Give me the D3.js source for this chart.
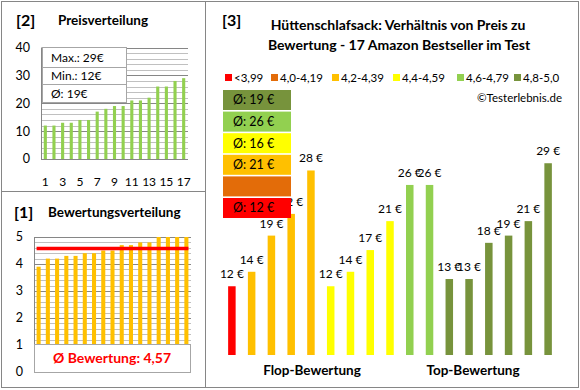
<!DOCTYPE html>
<html>
<meta charset="utf-8">
<head>
<style>
  body { margin: 0; background: #fff; }
  text { font-family: Lato, "Open Sans", sans-serif; }
</style>
</head>
<body>
<script src="https://d3js.org/d3.v7.min.js"></script>
<script>

// data: 17 products, ordered by rating group (flop -> top)
var prices  = [12, 14, 19, 22, 28, 12, 14, 17, 21, 26, 26, 13, 13, 18, 19, 21, 29];
var groups  = [0, 2, 2, 2, 2, 3, 3, 3, 3, 4, 4, 5, 5, 5, 5, 5, 5];
var groupLabels = ["<3,99", "4,0-4,19", "4,2-4,39", "4,4-4,59", "4,6-4,79", "4,8-5,0"];
var groupColors = ["#ff0000", "#e36c09", "#ffc000", "#ffff00", "#92d050", "#77933c"];
var groupAvg    = ["12", null, "21", "16", "26", "19"];

// sorted distributions
var priceSorted  = [12, 12, 13, 13, 14, 14, 17, 18, 19, 19, 21, 21, 22, 26, 26, 28, 29];
var ratingSorted = [3.9, 4.2, 4.2, 4.3, 4.3, 4.4, 4.4, 4.5, 4.5, 4.7, 4.7, 4.8, 4.8, 5.0, 5.0, 5.0, 5.0];
var priceInfo = ["Max.: 29€", "Min.: 12€", "Ø: 19€"];
var ratingAvg = 4.57;

var W = 580, H = 390;
var svg = d3.select("body").append("svg")
  .attr("width", W)
  .attr("height", H);

// frames
svg.append("rect").attr("x", 1.5).attr("y", 1.5).attr("width", 577).attr("height", 386)
  .attr("fill", "none").attr("stroke", "#868686");
svg.append("line").attr("x1", 205.5).attr("x2", 205.5).attr("y1", 1).attr("y2", 388).attr("stroke", "#868686");
svg.append("line").attr("x1", 1).attr("x2", 205).attr("y1", 191.5).attr("y2", 191.5).attr("stroke", "#868686");

function panelTitle(num, title, x, y, tx) {
  svg.append("text").attr("x", x).attr("y", y).attr("font-size", 16).attr("font-weight", "bold").text(num);
  svg.append("text").attr("x", tx).attr("y", y - 1).attr("font-size", 13.5).attr("font-weight", "bold").text(title);
}

// ---------- [2] Preisverteilung ----------
panelTitle("[2]", "Preisverteilung", 16, 26, 58);

var x2 = d3.scaleBand().domain(d3.range(17)).range([41, 188]).paddingInner(0.64).paddingOuter(0.32);
var y2 = d3.scaleLinear().domain([0, 40]).range([159, 47.5]);

var g2 = svg.append("g");
g2.selectAll(".grid").data(d3.range(2, 41, 2)).enter().append("line")
  .attr("x1", 41).attr("x2", 188)
  .attr("y1", function(d) { return Math.round(y2(d)) + 0.5; })
  .attr("y2", function(d) { return Math.round(y2(d)) + 0.5; })
  .attr("stroke", function(d) { return d % 10 === 0 ? "#868686" : "#c0c0c0"; });

g2.selectAll("rect.bar").data(priceSorted).enter().append("rect")
  .attr("x", function(d, i) { return x2(i); })
  .attr("width", x2.bandwidth())
  .attr("y", function(d) { return y2(d); })
  .attr("height", function(d) { return y2(0) - y2(d); })
  .attr("fill", "#92d050");

g2.append("line").attr("x1", 41.5).attr("x2", 41.5).attr("y1", y2(40)).attr("y2", y2(0)).attr("stroke", "#868686");
g2.append("line").attr("x1", 41).attr("x2", 188).attr("y1", Math.round(y2(0)) + 0.5).attr("y2", Math.round(y2(0)) + 0.5).attr("stroke", "#868686");

g2.selectAll(".ytick").data(d3.range(0, 41, 10)).enter().append("text")
  .attr("x", 30).attr("y", function(d) { return y2(d); }).attr("dy", "0.35em")
  .attr("text-anchor", "end").attr("font-size", 12.5).text(function(d) { return d; });

g2.selectAll(".xtick").data(d3.range(0, 17, 2)).enter().append("text")
  .attr("x", function(d) { return x2(d) + x2.bandwidth() / 2; }).attr("y", 186)
  .attr("text-anchor", "middle").attr("font-size", 12).text(function(d) { return d + 1; });

// info box
var boxRows = [48, 67, 84, 103];
g2.append("rect").attr("x", 42.5).attr("y", 47.5).attr("width", 84).attr("height", 55)
  .attr("fill", "#fff").attr("stroke", "#a6a6a6");
g2.selectAll(".sep").data(boxRows.slice(1, 3)).enter().append("line")
  .attr("x1", 42.5).attr("x2", 126.5)
  .attr("y1", function(d) { return d + 0.5; }).attr("y2", function(d) { return d + 0.5; })
  .attr("stroke", "#a6a6a6");
g2.selectAll(".info").data(priceInfo).enter().append("text")
  .attr("x", 51).attr("y", function(d, i) { return (boxRows[i] + boxRows[i + 1]) / 2; }).attr("dy", "0.35em")
  .attr("font-size", 12).text(function(d) { return d; });

// ---------- [1] Bewertungsverteilung ----------
panelTitle("[1]", "Bewertungsverteilung", 14, 218, 48);

var x1 = d3.scaleBand().domain(d3.range(17)).range([34, 191]).paddingInner(0.56).paddingOuter(0.28);
var y1 = d3.scaleLinear().domain([0, 5]).range([372, 237]);

var g1 = svg.append("g");
g1.selectAll(".grid").data(d3.range(1, 26).map(function(d) { return d / 5; })).enter().append("line")
  .attr("x1", 34).attr("x2", 191)
  .attr("y1", function(d) { return Math.round(y1(d)) + 0.5; })
  .attr("y2", function(d) { return Math.round(y1(d)) + 0.5; })
  .attr("stroke", function(d) { return Math.abs(d - Math.round(d)) < 1e-6 ? "#868686" : "#c0c0c0"; });

g1.selectAll("rect.bar").data(ratingSorted).enter().append("rect")
  .attr("x", function(d, i) { return x1(i); })
  .attr("width", x1.bandwidth())
  .attr("y", function(d) { return y1(d); })
  .attr("height", function(d) { return y1(0) - y1(d); })
  .attr("fill", "#ffc000");

g1.append("line").attr("x1", 34.5).attr("x2", 34.5).attr("y1", y1(5)).attr("y2", y1(0)).attr("stroke", "#868686");

g1.append("line").attr("x1", x1(0)).attr("x2", x1(16) + x1.bandwidth())
  .attr("y1", y1(ratingAvg)).attr("y2", y1(ratingAvg))
  .attr("stroke", "#ff0000").attr("stroke-width", 3.5);

g1.selectAll(".ytick").data(d3.range(0, 6)).enter().append("text")
  .attr("x", 23).attr("y", function(d) { return y1(d); }).attr("dy", "0.35em")
  .attr("text-anchor", "end").attr("font-size", 12.5).text(function(d) { return d; });

g1.append("rect").attr("x", 34.5).attr("y", y1(1) - 0.5).attr("width", 156).attr("height", y1(0) - y1(1) + 1)
  .attr("fill", "#fff").attr("stroke", "#a6a6a6");
g1.append("text").attr("x", 112).attr("y", (y1(0) + y1(1)) / 2).attr("dy", "0.35em")
  .attr("text-anchor", "middle").attr("font-size", 14).attr("font-weight", "bold").attr("fill", "#ff0000")
  .text("Ø Bewertung: " + String(ratingAvg).replace(".", ","));

// ---------- [3] Preis / Bewertung ----------
svg.append("text").attr("x", 222).attr("y", 26).attr("font-size", 16).attr("font-weight", "bold").text("[3]");
svg.append("text").attr("x", 398).attr("y", 30).attr("text-anchor", "middle").attr("font-size", 14).attr("font-weight", "bold")
  .text("Hüttenschlafsack: Verhältnis von Preis zu");
svg.append("text").attr("x", 399).attr("y", 50).attr("text-anchor", "middle").attr("font-size", 14).attr("font-weight", "bold")
  .text("Bewertung - 17 Amazon Bestseller im Test");

// legend
var legendX = [225, 271, 332, 393, 457, 514];
var leg = svg.selectAll(".legend").data(groupLabels).enter().append("g")
  .attr("transform", function(d, i) { return "translate(" + legendX[i] + ",74)"; });
leg.append("rect").attr("width", 7).attr("height", 7).attr("fill", function(d, i) { return groupColors[i]; });
leg.append("text").attr("x", 9).attr("y", 3.5).attr("dy", "0.35em").attr("font-size", 11.5).text(function(d) { return d; });

svg.append("text").attr("x", 562).attr("y", 98).attr("dy", "0.35em").attr("text-anchor", "end")
  .attr("font-size", 11.5).text("©Testerlebnis.de");

var x3 = d3.scaleBand().domain(d3.range(17)).range([222, 558]).paddingInner(0.62).paddingOuter(0.31);
var y3 = d3.scaleLinear().domain([2.5, 30]).range([355, 156]);

var g3 = svg.append("g");
g3.selectAll("rect.bar").data(prices).enter().append("rect")
  .attr("x", function(d, i) { return x3(i); })
  .attr("width", x3.bandwidth())
  .attr("y", function(d) { return y3(d); })
  .attr("height", function(d) { return y3(2.5) - y3(d); })
  .attr("fill", function(d, i) { return groupColors[groups[i]]; });

g3.selectAll("text.val").data(prices).enter().append("text")
  .attr("x", function(d, i) { return x3(i) + x3.bandwidth() / 2; })
  .attr("y", function(d) { return y3(d) - 8; })
  .attr("text-anchor", "middle").attr("font-size", 12).text(function(d) { return d + " €"; });

g3.append("text").attr("x", 312).attr("y", 370).attr("dy", "0.35em").attr("text-anchor", "middle")
  .attr("font-size", 13.5).attr("font-weight", "bold").text("Flop-Bewertung");
g3.append("text").attr("x", 473).attr("y", 370).attr("dy", "0.35em").attr("text-anchor", "middle")
  .attr("font-size", 13.5).attr("font-weight", "bold").text("Top-Bewertung");

// average boxes, top group first
var avgOrder = [5, 4, 3, 2, 1, 0];
var avg = svg.selectAll(".avg").data(avgOrder).enter().append("g")
  .attr("transform", function(d, i) { return "translate(223," + (90 + i * 21.6) + ")"; });
avg.append("rect").attr("width", 68).attr("height", 20).attr("fill", function(d) { return groupColors[d]; });
avg.append("text").attr("x", 10).attr("y", 10).attr("dy", "0.35em").attr("font-size", 12.5)
  .text(function(d) { return groupAvg[d] ? "Ø: " + groupAvg[d] + " €" : ""; });

</script>
</body>
</html>
